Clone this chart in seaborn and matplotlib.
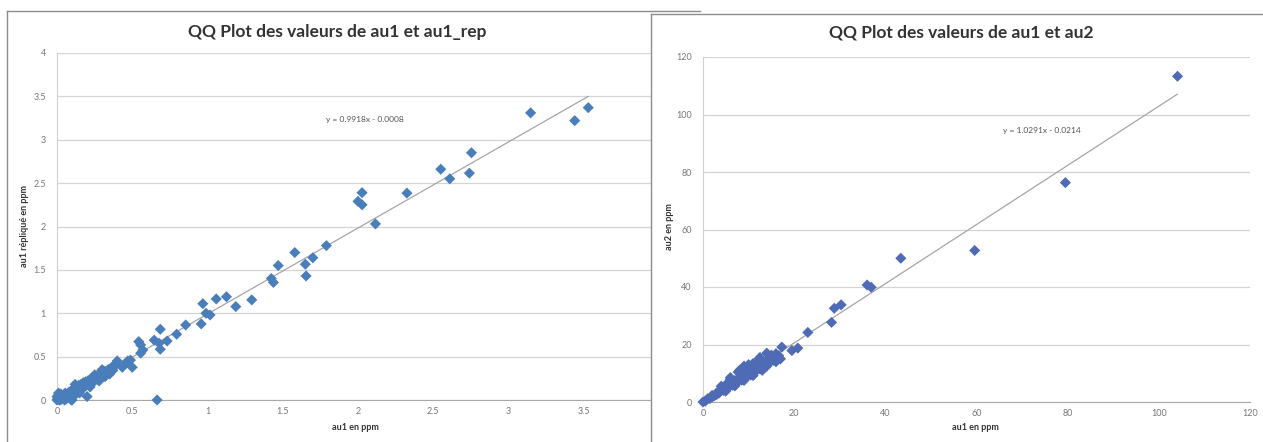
import matplotlib
matplotlib.use("Agg")
import matplotlib.pyplot as plt
import seaborn as sns
import pandas as pd
import numpy as np

# ---- data: au1 vs au1 replicate (ppm) ----
au1_rep_x = [
    0.0, 0.005, 0.01, 0.015, 0.02, 0.025, 0.03, 0.035, 0.04, 0.045, 0.05, 0.055,
    0.06, 0.065, 0.07, 0.075, 0.08, 0.085, 0.09, 0.095, 0.1, 0.105, 0.11, 0.115,
    0.12, 0.125, 0.13, 0.135, 0.14, 0.145, 0.15, 0.155, 0.16, 0.165, 0.17, 0.175,
    0.18, 0.185, 0.19, 0.195, 0.2, 0.205, 0.21, 0.215, 0.22, 0.225, 0.23, 0.235,
    0.24, 0.245, 0.25, 0.255, 0.26, 0.265, 0.27, 0.275, 0.28, 0.285, 0.29, 0.295,
    0.3, 0.305, 0.31, 0.32, 0.33, 0.34, 0.35, 0.36, 0.37, 0.38, 0.39, 0.4, 0.37,
    0.15, 0.22, 0.28, 0.32, 0.35, 0.25, 0.30, 0.12, 0.05, 0.02, 0.0, 0.01,
    0.2, 0.1, 0.06, 0.434, 0.461, 0.488, 0.50, 0.47,
    0.543, 0.556, 0.57, 0.556, 0.646, 0.678, 0.686, 0.686, 0.732, 0.795, 0.855,
    0.665, 0.958, 0.969, 0.99, 1.017, 1.058, 1.126, 1.188, 1.294,
    1.424, 1.438, 1.47, 1.58, 1.65, 1.655, 1.70, 1.79,
    2.0, 2.027, 2.027, 2.116, 2.325, 2.55, 2.61, 2.74, 2.754,
    3.147, 3.44, 3.53,
]
au1_rep_y = [
    0.0, 0.02, 0.05, 0.0, 0.03, 0.07, 0.01, 0.04, 0.02, 0.06, 0.03, 0.08,
    0.05, 0.02, 0.07, 0.04, 0.09, 0.06, 0.1, 0.0, 0.08, 0.12, 0.1, 0.05,
    0.13, 0.11, 0.15, 0.09, 0.14, 0.17, 0.13, 0.16, 0.18, 0.12, 0.17, 0.2,
    0.16, 0.19, 0.21, 0.17, 0.2, 0.22, 0.19, 0.23, 0.21, 0.24, 0.2, 0.25,
    0.23, 0.26, 0.22, 0.27, 0.25, 0.28, 0.24, 0.29, 0.27, 0.3, 0.26, 0.31,
    0.29, 0.32, 0.28, 0.33, 0.31, 0.35, 0.32, 0.37, 0.36, 0.4, 0.42, 0.45, 0.34,
    0.08, 0.15, 0.22, 0.27, 0.30, 0.29, 0.35, 0.18, 0.0, 0.0, 0.04, 0.08,
    0.04, 0.0, 0.01, 0.377, 0.43, 0.46, 0.377, 0.45,
    0.673, 0.635, 0.577, 0.54, 0.69, 0.654, 0.815, 0.585, 0.68, 0.758, 0.865,
    0.0, 0.877, 1.11, 1.0, 0.98, 1.165, 1.19, 1.077, 1.154,
    1.40, 1.355, 1.55, 1.70, 1.565, 1.43, 1.64, 1.78,
    2.29, 2.39, 2.25, 2.03, 2.385, 2.66, 2.55, 2.615, 2.85,
    3.31, 3.22, 3.37,
]
rep_slope, rep_intercept = 0.9918, -0.0008

# ---- data: au1 vs au2 (ppm) ----
au2_x = [
    0.0, 0.5, 1.0, 1.5, 2.0, 2.5, 3.0, 3.5, 4.0, 4.5, 5.0, 5.5, 6.0, 6.5, 7.0,
    7.5, 8.0, 8.5, 9.0, 9.5, 10.0, 10.5, 11.0, 11.5, 12.0, 12.5, 13.0, 13.5,
    14.0, 14.5, 15.0, 15.5, 16.0, 16.5, 8.0, 9.0, 10.0, 12.5, 14.0, 15.0, 7.7,
    11.0, 6.0, 4.0, 3.0, 2.0, 5.0,
    5.0, 7.0, 9.0, 11.0, 13.0, 6.0, 10.0, 12.0, 14.0, 16.0, 17.0,
    16.6, 17.3, 19.5, 20.8, 23.0, 28.2, 28.8, 30.3, 36.0, 36.9, 43.4, 59.6,
    79.5, 104.1,
]
au2_y = [
    0.0, 0.3, 1.1, 1.2, 2.3, 2.2, 3.2, 3.1, 4.3, 4.0, 5.3, 4.9, 6.4, 5.8, 7.5,
    6.8, 8.4, 7.6, 9.8, 8.6, 10.6, 9.4, 11.7, 10.6, 12.8, 11.5, 13.8, 12.6,
    14.4, 13.5, 15.6, 14.5, 16.8, 15.2, 11.0, 12.5, 13.0, 15.5, 17.0, 16.3, 10.4,
    13.4, 7.9, 5.5, 2.6, 1.7, 6.0,
    3.8, 5.6, 7.5, 9.2, 11.0, 8.5, 12.0, 14.5, 12.5, 14.0, 15.0,
    16.1, 19.1, 17.9, 18.75, 24.2, 27.7, 32.6, 33.8, 40.7, 39.9, 50.0, 52.7,
    76.3, 113.3,
]
au2_slope, au2_intercept = 1.0291, -0.0214

W, H = 1263, 442
fig = plt.figure(figsize=(W / 100, H / 100), dpi=100)
fig.patch.set_facecolor("white")
sns.set_style("white")
plt.rcParams["font.family"] = ["Lato", "DejaVu Sans"]


def px(x0, y0, x1, y1):
    """Axes rectangle from pixel box (top-left origin)."""
    return [x0 / W, 1 - y1 / H, (x1 - x0) / W, (y1 - y0) / H]


def panel(box, z):
    ax = fig.add_axes(px(*box), zorder=z)
    ax.set_xticks([])
    ax.set_yticks([])
    ax.set_facecolor("white")
    for side in ("bottom", "right"):
        ax.spines[side].set_visible(False)
    for side in ("top", "left"):
        ax.spines[side].set_color("#8c8c8c")
        ax.spines[side].set_linewidth(1.0)
    return ax


def style_plot(ax, xticks, yticks, xlim, ylim):
    ax.set_facecolor("none")
    ax.set_xlim(*xlim)
    ax.set_ylim(*ylim)
    ax.set_xticks(xticks)
    ax.set_yticks(yticks)
    ax.set_xticklabels([f"{t:g}" for t in xticks])
    ax.set_yticklabels([f"{t:g}" for t in yticks])
    ax.yaxis.grid(True, color="#d4d4d4", linewidth=0.9)
    ax.xaxis.grid(False)
    ax.set_axisbelow(True)
    for side in ("top", "right"):
        ax.spines[side].set_visible(False)
    ax.spines["left"].set_color("#d0d0d0")
    ax.spines["bottom"].set_color("#a8a8a8")
    ax.tick_params(axis="both", labelsize=6.5, colors="#777777", length=3,
                   width=0.8, direction="out", pad=5)
    ax.tick_params(axis="x", length=0)
    ax.set_xlabel("")
    ax.set_ylabel("")


# left panel and plot
panel((7, 11, 700, 460), 0)
axL = fig.add_axes(px(57, 53, 659, 400), zorder=1)
dfL = pd.DataFrame({"x": au1_rep_x, "y": au1_rep_y})
sns.scatterplot(data=dfL, x="x", y="y", ax=axL, marker="D", s=32,
                color="#4a7ebb", edgecolor="none", linewidth=0, zorder=3,
                clip_on=False)
xl = np.array([0.0, max(au1_rep_x)])
sns.lineplot(x=xl, y=rep_slope * xl + rep_intercept, ax=axL,
             color="#a5a5a5", linewidth=0.9, zorder=2)
style_plot(axL, [0, 0.5, 1, 1.5, 2, 2.5, 3, 3.5, 4],
           [0, 0.5, 1, 1.5, 2, 2.5, 3, 3.5, 4], (0, 4), (0, 4))
axL.text(1.79, 3.23, f"y = {rep_slope}x - {abs(rep_intercept):.4f}",
         fontsize=6, color="#555555", va="center", ha="left")
fig.text(337 / W, 1 - 32 / H, "QQ Plot des valeurs de au1 et au1_rep",
         ha="center", va="center", fontsize=12.5, fontweight="bold", color="#333333")
fig.text(355 / W, 1 - 428 / H, "au1 en ppm", ha="center", va="center",
         fontsize=6.5, fontweight="bold", color="#333333")
fig.text(25 / W, 1 - 226 / H, "au1 répliqué en ppm", ha="center", va="center",
         rotation=90, fontsize=6.5, fontweight="bold", color="#333333")

# right panel and plot
panel((651, 14, 1275, 460), 2)
axR = fig.add_axes(px(703, 57, 1250, 402), zorder=3)
dfR = pd.DataFrame({"x": au2_x, "y": au2_y})
sns.scatterplot(data=dfR, x="x", y="y", ax=axR, marker="D", s=32,
                color="#4f6bb5", edgecolor="none", linewidth=0, zorder=3,
                clip_on=False)
xr = np.array([0.0, max(au2_x)])
sns.lineplot(x=xr, y=au2_slope * xr + au2_intercept, ax=axR,
             color="#a5a5a5", linewidth=0.9, zorder=2)
style_plot(axR, [0, 20, 40, 60, 80, 100, 120],
           [0, 20, 40, 60, 80, 100, 120], (0, 120), (0, 120))
axR.text(65.8, 94.3, f"y = {au2_slope}x - {abs(au2_intercept):.4f}",
         fontsize=6, color="#555555", va="center", ha="left")
fig.text(961 / W, 1 - 33 / H, "QQ Plot des valeurs de au1 et au2",
         ha="center", va="center", fontsize=12.5, fontweight="bold", color="#333333")
fig.text(975 / W, 1 - 428 / H, "au1 en ppm", ha="center", va="center",
         fontsize=6.5, fontweight="bold", color="#333333")
fig.text(670 / W, 1 - 227 / H, "au2 en ppm", ha="center", va="center",
         rotation=90, fontsize=6.5, fontweight="bold", color="#333333")

fig.savefig("out.png", dpi=100, facecolor="white")
